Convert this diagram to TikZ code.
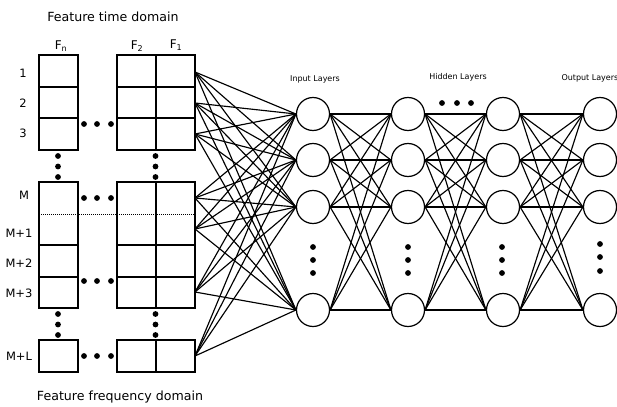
\documentclass[tikz,border=0pt]{standalone}
\usepackage{fontspec}
\setmainfont{DejaVu Sans}
\begin{document}
\begin{tikzpicture}[x=1pt,y=-1pt,
  neuron/.style={circle,draw,minimum size=33pt,inner sep=0pt,line width=1.2pt},
  conn/.style={line width=1.15pt},
  gridline/.style={line width=1.1pt},
  title/.style={font=\fontsize{12.6}{15}\selectfont},
  layer/.style={font=\fontsize{8}{10}\selectfont},
  rowlab/.style={font=\fontsize{11.5}{13}\selectfont},
  flab/.style={font=\fontsize{12}{14}\selectfont}]
\useasboundingbox (0,0) rectangle (617,406);
\clip (0,0) rectangle (617,406);

% grid blocks
\draw[gridline] (39,55) rectangle (78,150);
\draw[gridline] (39,87) -- (78,87) (39,118) -- (78,118);
\draw[gridline] (117,55) rectangle (195,150);
\draw[gridline] (156,55) -- (156,150) (117,87) -- (195,87) (117,118) -- (195,118);

\draw[gridline] (39,182) rectangle (78,308);
\draw[gridline] (39,245) -- (78,245) (39,277) -- (78,277);
\draw[gridline] (117,182) rectangle (195,308);
\draw[gridline] (156,182) -- (156,308) (117,245) -- (195,245) (117,277) -- (195,277);
\draw[line width=1pt, densely dotted] (39,214) -- (195,214);

\draw[gridline] (39,340) rectangle (78,372);
\draw[gridline] (117,340) rectangle (195,372);
\draw[gridline] (156,340) -- (156,372);

% dots in grid
\foreach \y in {124,198,281,356} \foreach \x in {84,97,111} \fill (\x,\y) circle (2.9);
\foreach \x in {58,155.5} \foreach \y in {156,166.5,177,314,324.5,335} \fill (\x,\y) circle (2.9);

% labels
\node[title] (ttl) at (113,17) {Feature time domain};
\node[title] (ftl) at (120,397) {Feature frequency domain};
\node[flab] (fn) at (61,46) {F\textsubscript{n}};
\node[flab] (f2) at (137,46) {F\textsubscript{2}};
\node[flab] (f1) at (176,45) {F\textsubscript{1}};
\node[rowlab] (l1) at (23,73) {1};
\node[rowlab] (l2) at (23,103) {2};
\node[rowlab] (l3) at (23,133) {3};
\node[rowlab] (lm) at (24,195) {M};
\node[rowlab] (lm1) at (19,233) {M+1};
\node[rowlab] (lm2) at (19,263) {M+2};
\node[rowlab] (lm3) at (19,293) {M+3};
\node[rowlab] (lml) at (19,356) {M+L};

\node[layer] (tin) at (315,79) {Input Layers};
\node[layer] (thid) at (458,77) {Hidden Layers};
\node[layer, anchor=west] (tout) at (558,78) {Output Layers};

% sources
\coordinate (s1) at (195,72);
\coordinate (s2) at (195,103);
\coordinate (s3) at (195,134);
\coordinate (s4) at (195,198);
\coordinate (s5) at (195,229);
\coordinate (s6) at (195,292);
\coordinate (s7) at (195,356);

% neurons
\foreach \l/\x in {a/313,b/408,c/503,d/600} {
  \node[neuron] (\l1) at (\x,114) {};
  \node[neuron] (\l2) at (\x,160) {};
  \node[neuron] (\l3) at (\x,207) {};
  \node[neuron] (\l4) at (\x,310) {};
}
\foreach \x in {313,408,502} \foreach \y in {247,260,273} \fill (\x,\y) circle (2.9);
\foreach \y in {244,257,271} \fill (600,\y) circle (2.9);
\foreach \x in {442,457,471} \fill (\x,103) circle (2.9);

% connections
\foreach \s in {1,...,7} \foreach \t in {1,...,4} \draw[conn] (s\s) -- (a\t.west);
\foreach \p/\q in {a/b,b/c,c/d} \foreach \i in {1,...,4} \foreach \j in {1,...,4}
  \draw[conn] (\p\i.east) -- (\q\j.west);
\end{tikzpicture}
\end{document}
